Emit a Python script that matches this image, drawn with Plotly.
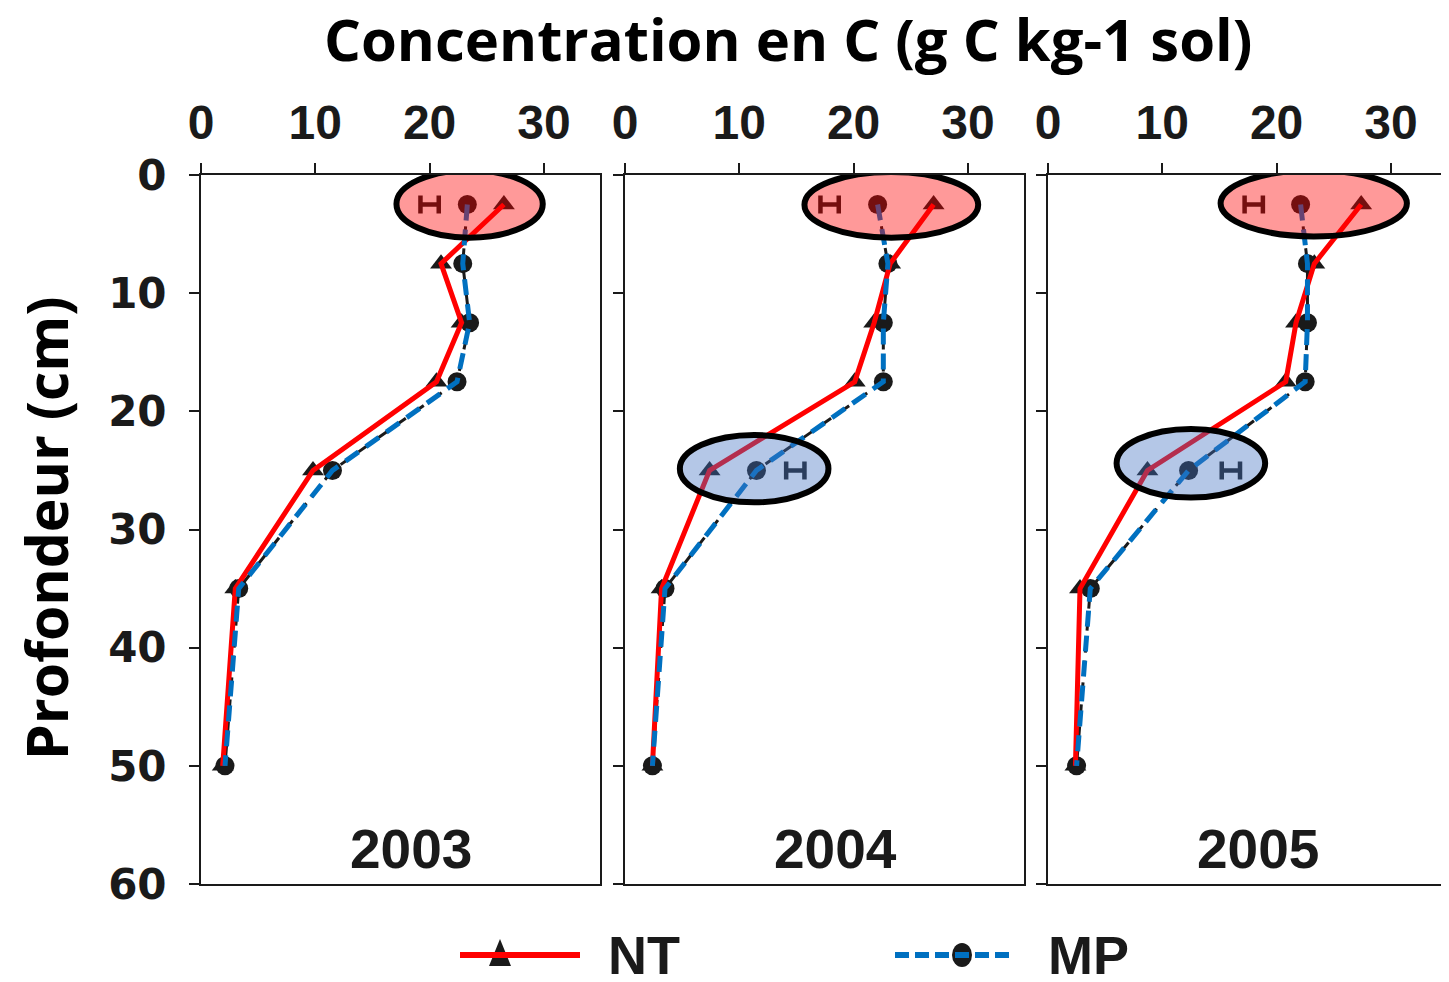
import plotly.graph_objects as go

# the page puts the figure 8 px in from the top-left corner
OFF = 8
W, H = 1449 - 2 * OFF, 982 - 2 * OFF

# ---------------- data ----------------
depths = [2.5, 7.5, 12.5, 17.5, 25, 35, 50]
years = ["2003", "2004", "2005"]
nt_values = {
    "2003": [26.5, 21.0, 22.8, 20.6, 9.8, 3.0, 1.9],
    "2004": [27.0, 23.2, 21.8, 20.1, 7.4, 3.2, 2.4],
    "2005": [27.4, 23.3, 21.7, 20.8, 8.7, 2.8, 2.4],
}
mp_values = {
    "2003": [23.3, 22.9, 23.5, 22.4, 11.5, 3.3, 2.1],
    "2004": [22.1, 23.0, 22.6, 22.6, 11.5, 3.5, 2.4],
    "2005": [22.1, 22.7, 22.7, 22.5, 12.3, 3.7, 2.5],
}
# LSD bars (centre, half-width, depth)
lsd_bars = {
    "2003": [(20.0, 0.8, 2.5)],
    "2004": [(17.9, 0.8, 2.5), (14.9, 0.8, 25)],
    "2005": [(18.0, 0.8, 2.5), (16.0, 0.8, 25)],
}
# highlight ellipses: (x0, x1, y0, y1, kind)
highlights = {
    "2003": [(17.1, 29.9, -0.4, 5.3, "red")],
    "2004": [(15.7, 30.9, -0.25, 5.3, "red"), (4.8, 17.8, 22.0, 27.7, "blue")],
    "2005": [(15.1, 31.4, -0.4, 5.2, "red"), (6.0, 19.0, 21.5, 27.3, "blue")],
}
x_ticks = [0, 10, 20, 30]
y_ticks = [0, 10, 20, 30, 40, 50, 60]
title_text = "Concentration en C (g C kg-1 sol)"
ytitle_text = "Profondeur (cm)"

# ---------------- layout helpers (page pixel -> paper fraction) ----------------
def px(x):
    return min(max((x - OFF) / W, 0.0), 1.0)

def py(y):
    return min(max(1 - (y - OFF) / H, 0.0), 1.0)

panel_px = [(201, 600), (625, 1024), (1048, W + OFF)]
y_top, y_bot = 175, 884
PX_PER_UNIT = 11.43

RED = "#FF0000"
BLUE = "#0070C0"
INK = "#1a1a1a"

fig = go.Figure()
shapes = []
annotations = []

for i, yr in enumerate(years):
    n = "" if i == 0 else str(i + 1)
    xa, ya = "x" + n, "y" + n
    # black original lines
    fig.add_trace(go.Scatter(
        x=nt_values[yr], y=depths, xaxis=xa, yaxis=ya, mode="lines+markers",
        line=dict(color=INK, width=3),
        marker=dict(symbol="triangle-up", size=19, color=INK),
        showlegend=False, hoverinfo="skip"))
    fig.add_trace(go.Scatter(
        x=mp_values[yr], y=depths, xaxis=xa, yaxis=ya, mode="lines+markers",
        line=dict(color=INK, width=3, dash="14px,8px"),
        marker=dict(symbol="circle", size=19, color=INK),
        showlegend=False, hoverinfo="skip"))
    # LSD bars
    for (cx, hw, d) in lsd_bars[yr]:
        fig.add_trace(go.Scatter(
            x=[cx], y=[d], xaxis=xa, yaxis=ya, mode="markers",
            marker=dict(size=1, color="rgba(0,0,0,0)"),
            error_x=dict(type="data", array=[hw], symmetric=True,
                         color=INK, thickness=4.5, width=9),
            showlegend=False, hoverinfo="skip"))
    # coloured overlay lines
    fig.add_trace(go.Scatter(
        x=nt_values[yr], y=depths, xaxis=xa, yaxis=ya, mode="lines",
        line=dict(color=RED, width=5), showlegend=False))
    fig.add_trace(go.Scatter(
        x=mp_values[yr], y=depths, xaxis=xa, yaxis=ya, mode="lines",
        line=dict(color=BLUE, width=5, dash="16px,9px"), showlegend=False))

    for (x0, x1, y0, y1, kind) in highlights[yr]:
        fill = "rgba(255,0,0,0.4)" if kind == "red" else "rgba(68,114,196,0.4)"
        shapes.append(dict(type="circle", xref=xa, yref=ya, x0=x0, x1=x1, y0=y0, y1=y1,
                           fillcolor=fill, line=dict(color="black", width=6), layer="above"))

    annotations.append(dict(text=yr, xref=xa, yref=ya, x=18.4, y=57.0, showarrow=False,
                            font=dict(family="Liberation Sans", size=55, color=INK, weight="bold")))

    l, r = panel_px[i]
    xmax = (r - l) / PX_PER_UNIT
    fig.layout["xaxis" + n] = dict(
        domain=[px(l), px(r)], range=[0, xmax], side="top", anchor=ya,
        tickvals=x_ticks, ticks="outside", ticklen=10, tickwidth=2, tickcolor=INK,
        showline=True, linecolor=INK, linewidth=2, mirror=True,
        showgrid=False, zeroline=False, ticklabelstandoff=5, automargin=False,
        tickfont=dict(family="Liberation Sans Narrow, Liberation Sans", size=48,
                      color=INK, weight="bold"))
    fig.layout["yaxis" + n] = dict(
        domain=[py(y_bot), py(y_top)], range=[60, 0], anchor=xa,
        tickvals=y_ticks, ticks="outside", ticklen=10, tickwidth=2, tickcolor=INK,
        showline=True, linecolor=INK, linewidth=2, mirror=True,
        showgrid=False, zeroline=False, showticklabels=(i == 0), ticklabelstandoff=14,
        automargin=False,
        tickfont=dict(family="DejaVu Sans", size=42, color=INK, weight="bold"))

# titles
annotations.append(dict(text=title_text, xref="paper", yref="paper", x=px(788), y=py(39),
                        showarrow=False, xanchor="center", yanchor="middle",
                        font=dict(family="Open Sans", size=58, color="black", weight="bold")))
annotations.append(dict(text=ytitle_text, xref="paper", yref="paper", x=px(46), y=py(528),
                        showarrow=False, textangle=-90, xanchor="center", yanchor="middle",
                        font=dict(family="Open Sans", size=57, color="black", weight="bold")))

# legend (drawn manually)
ly = 955
shapes.append(dict(type="path", xref="paper", yref="paper",
                   path=f"M {px(500)},{py(ly-16)} L {px(511)},{py(ly+11)} L {px(489)},{py(ly+11)} Z",
                   fillcolor=INK, line=dict(width=0), layer="above"))
shapes.append(dict(type="line", xref="paper", yref="paper", x0=px(460), x1=px(580),
                   y0=py(ly), y1=py(ly), line=dict(color=RED, width=6), layer="above"))
shapes.append(dict(type="circle", xref="paper", yref="paper", x0=px(952), x1=px(972),
                   y0=py(ly+12), y1=py(ly-12), fillcolor=INK, line=dict(width=0), layer="above"))
shapes.append(dict(type="line", xref="paper", yref="paper", x0=px(895), x1=px(1010),
                   y0=py(ly), y1=py(ly), line=dict(color=BLUE, width=6, dash="14px,6px"), layer="above"))
annotations.append(dict(text="NT", xref="paper", yref="paper", x=px(606), y=py(955),
                        xanchor="left", yanchor="middle", showarrow=False,
                        font=dict(family="Liberation Sans Narrow, Liberation Sans", size=54,
                                  color=INK, weight="bold")))
annotations.append(dict(text="MP", xref="paper", yref="paper", x=px(1046), y=py(955),
                        xanchor="left", yanchor="middle", showarrow=False,
                        font=dict(family="Liberation Sans Narrow, Liberation Sans", size=54,
                                  color=INK, weight="bold")))

fig.update_layout(width=W, height=H,
                  margin=dict(l=0, r=0, t=0, b=0, pad=0, autoexpand=False),
                  paper_bgcolor="white", plot_bgcolor="white",
                  shapes=shapes, annotations=annotations, showlegend=False)

fig.write_html("out.html")
